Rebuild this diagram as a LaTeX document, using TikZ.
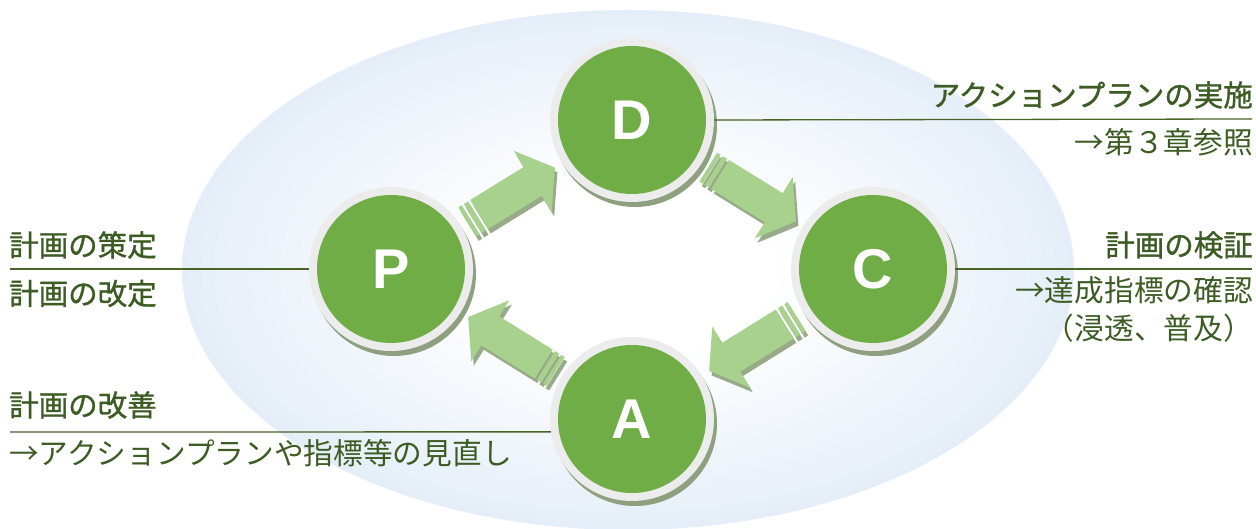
\documentclass[tikz,border=0pt]{standalone}
\usepackage{fontspec}
\usetikzlibrary{calc,shadows}
\newfontfamily\jp{Noto Sans CJK JP}
\newfontfamily\jpheavy{Noto Sans CJK JP}[FakeBold=1.1]
\newfontfamily\lettersf{Liberation Sans}

\definecolor{ellblue}{RGB}{215,229,244}
\definecolor{phasegreen}{RGB}{112,173,71}
\definecolor{ringgray}{RGB}{236,236,236}
\definecolor{ringshadow}{RGB}{143,160,128}
\definecolor{arrowgreen}{RGB}{169,209,142}
\definecolor{arrowshade}{RGB}{152,170,138}
\definecolor{textgreen}{RGB}{60,92,36}
\definecolor{leadergreen}{RGB}{70,100,40}

\pgfdeclareradialshading{ellshade}{\pgfpoint{0bp}{0bp}}{%
  color(0bp)=(white); color(8bp)=(white); color(34bp)=(ellblue); color(50bp)=(ellblue)}

\pgfdeclarelayer{bg}
\pgfdeclarelayer{mid}
\pgfsetlayers{bg,mid,main}

\tikzset{
  phase/.style={circle, fill=ringgray, minimum size=164, inner sep=0,
    text=white, font=\lettersf\bfseries\fontsize{56}{56}\selectfont,
    path picture={\fill[phasegreen] (path picture bounding box.center) circle (74);},
    drop shadow={shadow xshift=3, shadow yshift=-5, opacity=1, fill=ringshadow}},
  heading/.style={font=\jpheavy\fontsize{29.5}{34}\selectfont, text=textgreen, inner sep=0},
  subtext/.style={font=\jp\fontsize{29.7}{34}\selectfont, text=textgreen, inner sep=0},
  leader/.style={draw=leadergreen, line width=1.3},
  pics/cyclearrow/.style={code={
    \fill[#1] (-38,-17) -- (25,-17) -- (25,-36) -- (51,0) -- (25,36) -- (25,17) -- (-38,17) -- cycle;
    \fill[#1] (-40.5,-17) rectangle (-45.5,17);
    \fill[#1] (-48,-17) rectangle (-52,17);
  }}
}

% block arrow halfway between two phases, pointing from #1 to #2
\newcommand\cyclestep[2]{%
  \path let \p1=($(#2)-(#1)$), \n1={atan2(\y1,\x1)} in
    pic[rotate=\n1] at ($(#1)!0.5!(#2)+(2.5,-4.5)$) {cyclearrow=arrowshade}
    pic[rotate=\n1] at ($(#1)!0.5!(#2)$) {cyclearrow=arrowgreen};
}

\begin{document}
\begin{tikzpicture}[x=1pt,y=1pt]
\useasboundingbox (0,0) rectangle (1256,529);

% backdrop
\begin{pgfonlayer}{bg}
  \shade[shading=ellshade] (628,259) ellipse [x radius=446, y radius=260];
\end{pgfonlayer}

% the four phases
\node[phase] (D) at (632,409) {D};
\node[phase] (P) at (391,260) {P};
\node[phase] (C) at (873,260) {C};
\node[phase] (A) at (632,110) {A};

% arrows of the cycle
\begin{pgfonlayer}{mid}
  \cyclestep{P}{D}
  \cyclestep{D}{C}
  \cyclestep{C}{A}
  \cyclestep{A}{P}
\end{pgfonlayer}

% leader lines
\coordinate (pEnd) at (10,260);
\coordinate (dEnd) at (1252,410);
\coordinate (cEnd) at (1252,260);
\coordinate (aEnd) at (10,97);
\draw[leader] (P.west) -- (pEnd);
\draw[leader] (D.east) -- (dEnd);
\draw[leader] (C.east) -- (cEnd);
\draw[leader] (A.189) -- (aEnd);

% labels
\node[heading, anchor=west] (pPlan) at (9,284) {計画の策定};
\node[heading, anchor=west] (pRevise) at (9,235.5) {計画の改定};

\node[heading, anchor=east] (dDo) at (1253,434) {アクションプランの実施};
\node[subtext, anchor=east] (dRef) at (1253,386.5) {→第３章参照};

\node[heading, anchor=east] (cCheck) at (1253,284) {計画の検証};
\node[subtext, anchor=east] (cIndex) at (1253,239) {→達成指標の確認};
\node[subtext, anchor=east] (cSpread) at (1253,200.5) {（浸透、普及）};

\node[heading, anchor=west] (aAct) at (9,124) {計画の改善};
\node[subtext, anchor=west] (aReview) at (9,76) {→アクションプランや指標等の見直し};
\end{tikzpicture}
\end{document}
